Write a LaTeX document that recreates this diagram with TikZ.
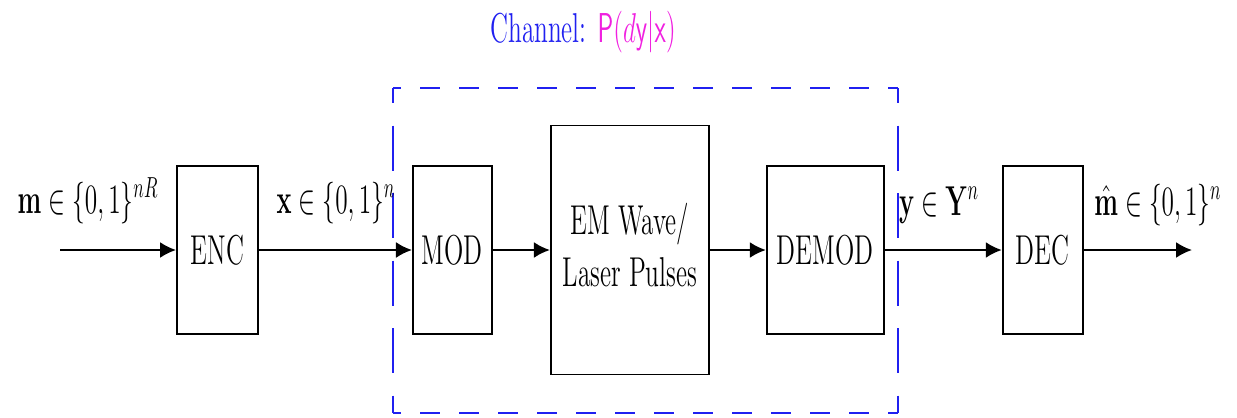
\documentclass[tikz,border=0pt]{standalone}
\usepackage{amsmath}
\usepackage{amssymb}
\usepackage{graphicx}
\usepackage{xcolor}
\usepackage{tikz}
\usetikzlibrary{arrows.meta, positioning}
\definecolor{chanblue}{HTML}{2020F0}
\definecolor{chanpink}{HTML}{F020E0}
% text in the figure is drawn tall and narrow
\newcommand{\tall}[1]{\scalebox{1}[1.65]{#1}}

\begin{document}
\begin{tikzpicture}[
  every node/.style={font=\Large},
  block/.style={draw=black, line width=1.1pt, fill=white,
                minimum height=3.36cm, align=center, inner sep=2pt},
  arrow/.style={-{Latex[length=3.2mm, width=3.2mm]}, line width=1.2pt},
  chanbox/.style={draw=chanblue, line width=1.3pt},
  hdash/.style={dash pattern=on 0.4cm off 0.38cm, dash phase=0.24cm},
  vdash/.style={dash pattern=on 0.9cm off 0.45cm, dash phase=0.6cm}
]
\useasboundingbox (0,0) rectangle (24.74,-8.34);

% Channel frame
\coordinate (fnw) at (7.86,-1.76);
\coordinate (fse) at (17.96,-8.26);
\draw[chanbox, hdash] (fnw) -- (fnw -| fse);
\draw[chanbox, hdash] (fnw |- fse) -- (fse);
\draw[chanbox, vdash] (fnw) -- (fnw |- fse);
\draw[chanbox, vdash] (fnw -| fse) -- (fse);
\node[anchor=base] (chanlab) at (11.66,-0.84) {\tall{\textcolor{chanblue}{Channel:}
  \textcolor{chanpink}{$\mathsf{P}(d\mathsf{y}|\mathsf{x})$}}};

% Blocks
\coordinate (src) at (1.2,-5);
\node[block, minimum width=1.62cm] (enc) at (4.35,-5) {\tall{ENC}};
\node[block, minimum width=1.58cm, right=3.06cm of enc] (mod) {\tall{MOD}};
\node[block, minimum width=3.16cm, minimum height=4.98cm, right=1.14cm of mod] (wave)
  {\tall{\begin{tabular}{@{}c@{}}EM Wave/\\Laser Pulses\end{tabular}}};
\node[block, minimum width=2.34cm, right=1.12cm of wave] (demod) {\tall{DEMOD}};
\node[block, minimum width=1.6cm, right=2.34cm of demod] (dec) {\tall{DEC}};
\coordinate (sink) at (23.84,-5);

% Connections
\draw[arrow] (src) -- (enc);
\draw[arrow] (enc) -- (mod);
\draw[arrow] (mod) -- (wave);
\draw[arrow] (wave) -- (demod);
\draw[arrow] (demod) -- (dec);
\draw[arrow] (dec) -- (sink);

% Signal labels
\node[anchor=base] (mlab) at (1.76,-4.26) {\tall{$\mathbf{m}\in\{0,1\}^{nR}$}};
\node[anchor=base] (xlab) at (6.72,-4.26) {\tall{$\mathbf{x}\in\{0,1\}^{n}$}};
\node[anchor=base] (ylab) at (18.78,-4.3) {\tall{$\mathbf{y}\in\mathbf{Y}^{n}$}};
\node[anchor=base] (mhatlab) at (23.16,-4.3) {\tall{$\hat{\mathbf{m}}\in\{0,1\}^{n}$}};

\end{tikzpicture}
\end{document}
